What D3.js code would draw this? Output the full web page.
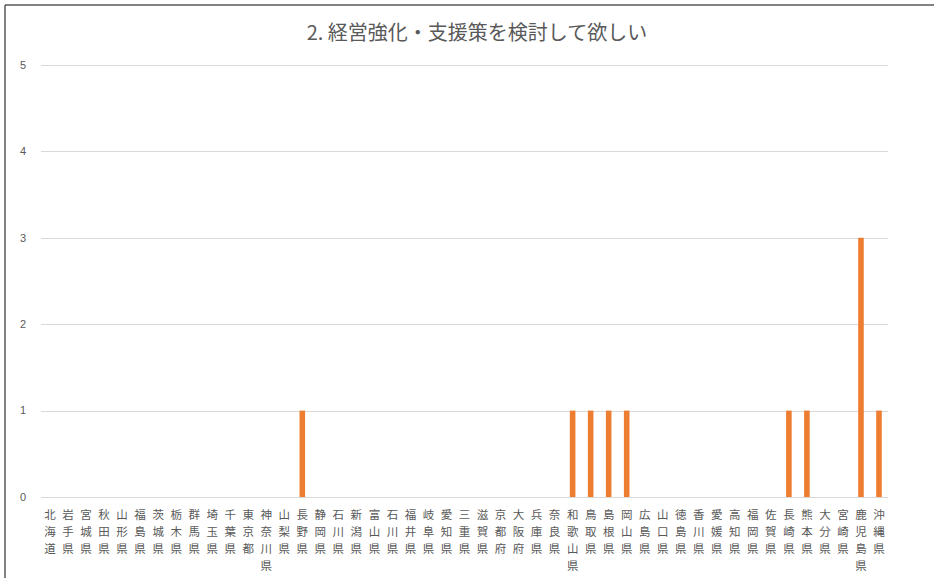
<!DOCTYPE html>
<html><head><meta charset="utf-8">
<script src="https://cdn.jsdelivr.net/npm/d3@7"></script>
<style>
html,body{margin:0;padding:0;background:#fff;}
svg{display:block;}
</style></head>
<body>
<svg id="chart" width="934" height="578"></svg>
<script>
const categories = ["北海道","岩手県","宮城県","秋田県","山形県","福島県","茨城県","栃木県","群馬県","埼玉県","千葉県","東京都","神奈川県","山梨県","長野県","静岡県","石川県","新潟県","富山県","石川県","福井県","岐阜県","愛知県","三重県","滋賀県","京都府","大阪府","兵庫県","奈良県","和歌山県","鳥取県","島根県","岡山県","広島県","山口県","徳島県","香川県","愛媛県","高知県","福岡県","佐賀県","長崎県","熊本県","大分県","宮崎県","鹿児島県","沖縄県"];
const values = [0,0,0,0,0,0,0,0,0,0,0,0,0,0,1,0,0,0,0,0,0,0,0,0,0,0,0,0,0,1,1,1,1,0,0,0,0,0,0,0,0,1,1,0,0,3,1];
const yTicks = [0,1,2,3,4,5];
const title = "2. 経営強化・支援策を検討して欲しい";

(function(){
const svg = d3.select("#chart");
const mL = 41, mR = 888, mT = 65, mB = 497;
const font = "'Noto Sans CJK JP', 'Noto Sans', sans-serif";

// frame
svg.append("line").attr("x1",5).attr("x2",934).attr("y1",5).attr("y2",5).attr("stroke","#595959").attr("stroke-width",1.5);
svg.append("line").attr("x1",5).attr("x2",5).attr("y1",5).attr("y2",578).attr("stroke","#595959").attr("stroke-width",1.5);

const x = d3.scaleBand().domain(d3.range(categories.length)).range([mL,mR]).paddingInner(0.69).paddingOuter(0.345);
const y = d3.scaleLinear().domain([0,5]).range([mB,mT]);

// gridlines
svg.append("g").selectAll("line").data(yTicks).join("line")
  .attr("x1",mL).attr("x2",mR)
  .attr("y1",d=>Math.round(y(d))+0.5).attr("y2",d=>Math.round(y(d))+0.5)
  .attr("stroke","#d9d9d9").attr("stroke-width",1);

// y labels
svg.append("g").selectAll("text").data(yTicks).join("text")
  .attr("x",26).attr("y",d=>y(d)).attr("dy","0.35em")
  .attr("text-anchor","end").attr("font-family","'Liberation Sans', Arial, sans-serif").attr("font-size",11).attr("fill","#595959")
  .text(d=>d);

// bars
svg.append("g").selectAll("rect").data(values).join("rect")
  .attr("x",(d,i)=>x(i)).attr("width",x.bandwidth())
  .attr("y",d=>y(d)).attr("height",d=>y(0)-y(d))
  .attr("fill","#ED7D31");

// category labels (vertical stacked)
const lab = svg.append("g");
categories.forEach((c,i)=>{
  const cx = x(i)+x.bandwidth()/2;
  const t = lab.append("text").attr("text-anchor","middle").attr("font-family",font).attr("font-size",11.5).attr("fill","#595959");
  Array.from(c).forEach((ch,j)=>{
    t.append("tspan").attr("x",cx).attr("y",519+j*17).text(ch);
  });
});

// title
svg.append("text").attr("x",477).attr("y",40).attr("text-anchor","middle")
  .attr("font-family",font).attr("font-size",20).attr("fill","#595959").text(title);
})();
</script>
</body></html>
